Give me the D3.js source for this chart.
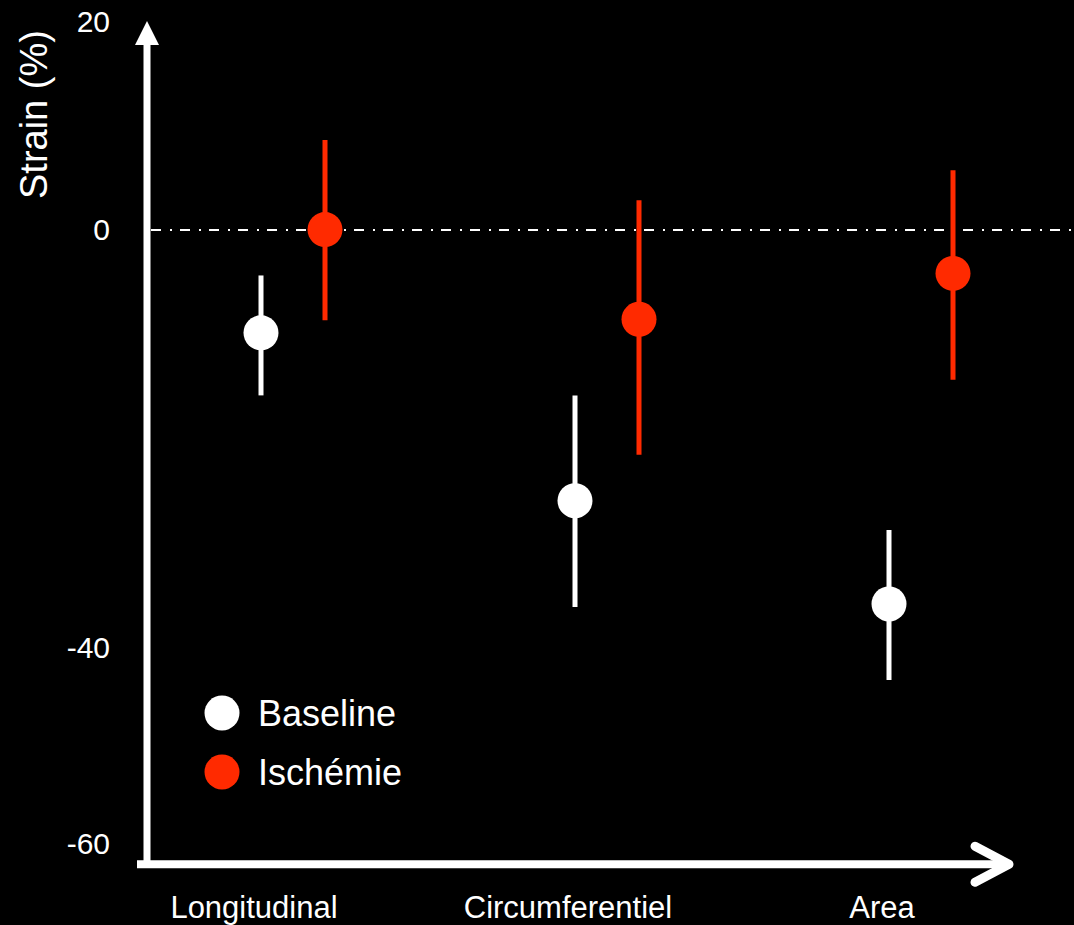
<!DOCTYPE html>
<html>
<head>
<meta charset="utf-8">
<script src="https://cdn.jsdelivr.net/npm/d3@7"></script>
<style>
  html, body { margin: 0; padding: 0; background: #000; }
  svg { display: block; }
  text { font-family: "Liberation Sans", Arial, Helvetica, sans-serif; fill: #fff; }
</style>
</head>
<body>
<svg id="chart"></svg>
<script>
// Data
const categories = ["Longitudinal", "Circumferentiel", "Area"];
const seriesNames = ["Baseline", "Ischémie"];
const baselineMean = [-9.9, -26.0, -35.9];
const baselineHigh = [-4.4, -15.9, -28.8];
const baselineLow = [-15.9, -36.2, -43.2];
const ischemieMean = [0.0, -8.6, -4.2];
const ischemieHigh = [8.6, 2.8, 5.7];
const ischemieLow = [-8.7, -21.6, -14.4];
const yTickValues = [20, 0, -40, -60];

// Dimensions
const svgWidth = 1074;
const svgHeight = 925;
const red = "#ff2a00";

const svg = d3.select("#chart")
  .attr("width", svgWidth)
  .attr("height", svgHeight);

svg.append("rect")
  .attr("width", svgWidth)
  .attr("height", svgHeight)
  .attr("fill", "#000");

// Scales
const y = d3.scaleLinear()
  .domain([-60, 20])
  .range([855.3, 21]);

const x = d3.scalePoint()
  .domain(categories)
  .range([254, 882]);

const axisX = 147;
const axisY = y(-60) + 9;

// Series: colour + offset from the category centre
const series = [
  { name: seriesNames[0], color: "#fff", offset: 7, mean: baselineMean, high: baselineHigh, low: baselineLow },
  { name: seriesNames[1], color: red, offset: 71, mean: ischemieMean, high: ischemieHigh, low: ischemieLow }
];

// Zero reference line (dash-dot)
const zeroY = Math.round(y(0));
svg.append("line")
  .attr("x1", axisX + 4)
  .attr("x2", svgWidth)
  .attr("y1", zeroY)
  .attr("y2", zeroY)
  .attr("stroke", "#fff")
  .attr("stroke-width", 2)
  .attr("stroke-dasharray", "10,9,2,8");

// Y axis line with filled arrow head
svg.append("line")
  .attr("x1", axisX)
  .attr("x2", axisX)
  .attr("y1", axisY)
  .attr("y2", y(20) + 22)
  .attr("stroke", "#fff")
  .attr("stroke-width", 7);

svg.append("path")
  .attr("d", `M${axisX - 12},${y(20) + 24} L${axisX},${y(20)} L${axisX + 12},${y(20) + 24} Z`)
  .attr("fill", "#fff");

// X axis line with open chevron
svg.append("line")
  .attr("x1", axisX - 10)
  .attr("x2", 1004)
  .attr("y1", axisY)
  .attr("y2", axisY)
  .attr("stroke", "#fff")
  .attr("stroke-width", 8);

svg.append("path")
  .attr("d", `M975,${axisY - 18} L1009,${axisY} L975,${axisY + 18}`)
  .attr("fill", "none")
  .attr("stroke", "#fff")
  .attr("stroke-width", 9)
  .attr("stroke-linecap", "round")
  .attr("stroke-linejoin", "round");

// Y tick labels
svg.selectAll(".ytick")
  .data(yTickValues)
  .enter()
  .append("text")
  .attr("class", "ytick")
  .attr("x", 110)
  .attr("y", d => Math.min(y(d), axisY - 21))
  .attr("dy", "0.36em")
  .attr("text-anchor", "end")
  .style("font-size", "30px")
  .text(d => d);

// Y axis title
svg.append("text")
  .attr("transform", `translate(47,${y(0) - 115}) rotate(-90)`)
  .attr("text-anchor", "middle")
  .style("font-size", "38px")
  .text("Strain (%)");

// Category labels
svg.selectAll(".xlabel")
  .data(categories)
  .enter()
  .append("text")
  .attr("class", "xlabel")
  .attr("x", d => x(d))
  .attr("y", 918)
  .attr("text-anchor", "middle")
  .style("font-size", "31px")
  .text(d => d);

// Error bars and points
series.forEach(s => {
  const rows = categories.map((c, i) => ({ cat: c, mean: s.mean[i], high: s.high[i], low: s.low[i] }));
  const g = svg.append("g");

  g.selectAll("line")
    .data(rows)
    .enter()
    .append("line")
    .attr("x1", d => x(d.cat) + s.offset)
    .attr("x2", d => x(d.cat) + s.offset)
    .attr("y1", d => y(d.high))
    .attr("y2", d => y(d.low))
    .attr("stroke", s.color)
    .attr("stroke-width", 5);

  g.selectAll("circle")
    .data(rows)
    .enter()
    .append("circle")
    .attr("cx", d => x(d.cat) + s.offset)
    .attr("cy", d => y(d.mean))
    .attr("r", 17.5)
    .attr("fill", s.color);
});

// Legend
const legend = svg.append("g")
  .attr("transform", "translate(222,713)");

const legendRows = legend.selectAll("g")
  .data(series)
  .enter()
  .append("g")
  .attr("transform", (d, i) => `translate(0,${i * 59})`);

legendRows.append("circle")
  .attr("r", 17.5)
  .attr("fill", d => d.color);

legendRows.append("text")
  .attr("x", 36)
  .attr("dy", "0.35em")
  .style("font-size", "36px")
  .text(d => d.name);
</script>
</body>
</html>
